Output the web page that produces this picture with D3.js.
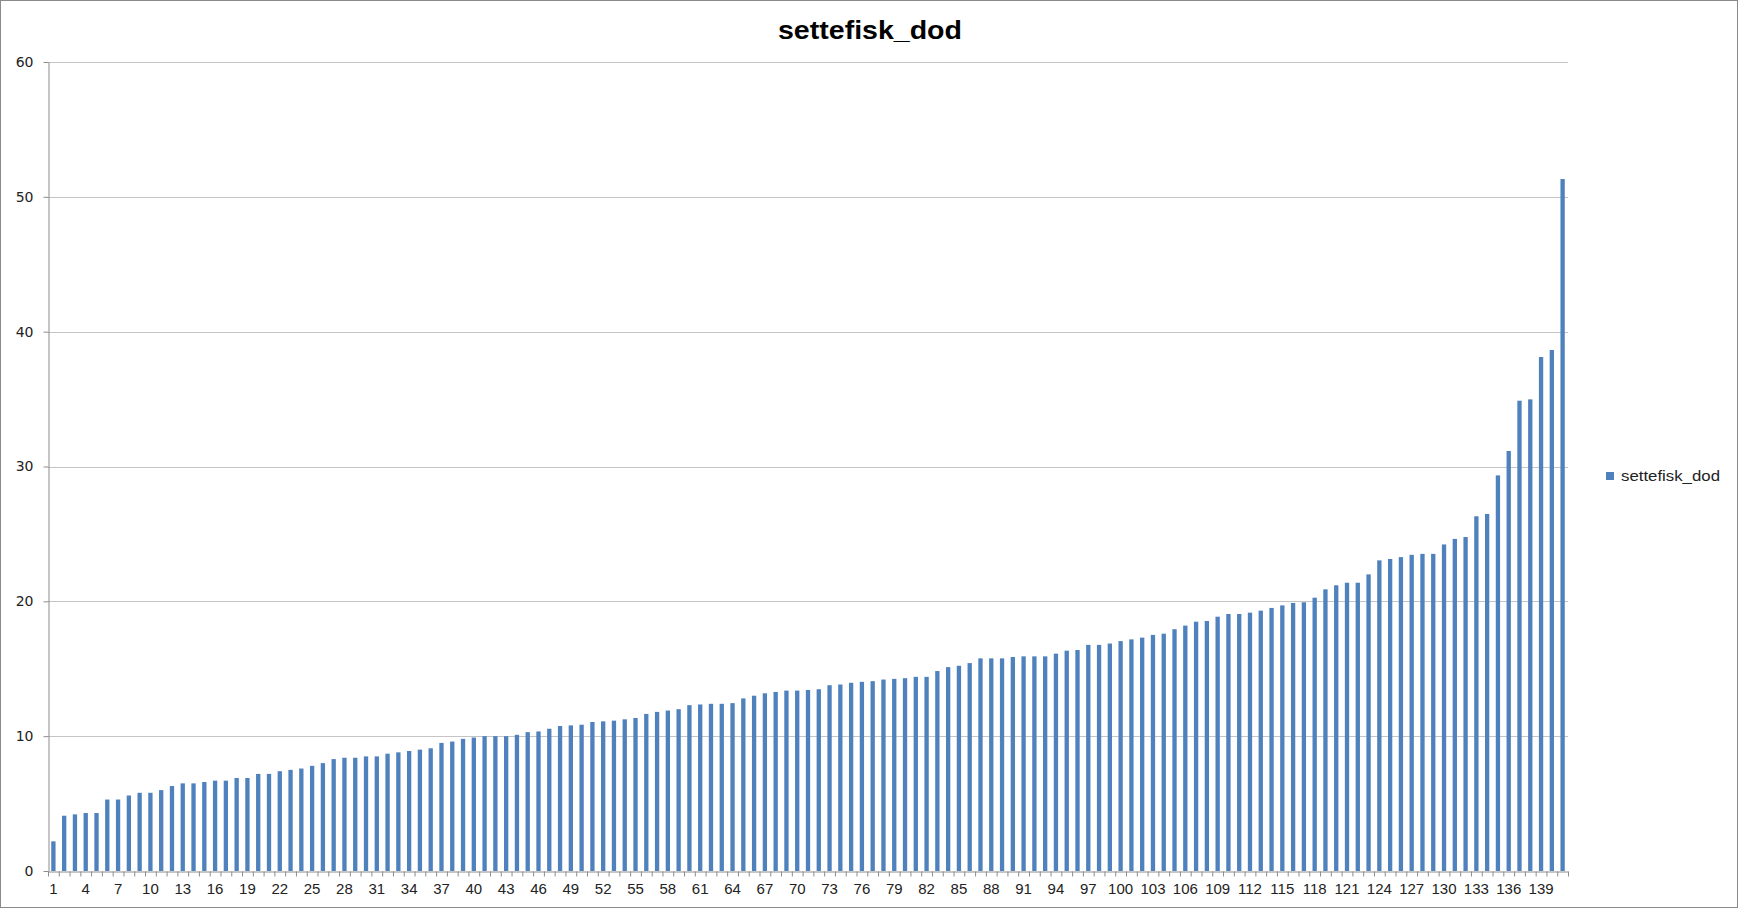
<!DOCTYPE html>
<html>
<head>
<meta charset="utf-8">
<script src="https://cdn.jsdelivr.net/npm/d3@7"></script>
<style>
	body { margin: 0; background: #fff; }
	svg { display: block; }
</style>
</head>
<body>
<svg id="chart" width="1738" height="908"></svg>
<script>
// values, sorted ascending
var seriesName = "settefisk_dod";
var yTicks = [0, 10, 20, 30, 40, 50, 60];
var values = [
	2.2, 4.1, 4.2, 4.3, 4.3, 5.3, 5.3, 5.6, 5.8, 5.8,
	6.0, 6.3, 6.5, 6.5, 6.6, 6.7, 6.7, 6.9, 6.9, 7.2,
	7.2, 7.4, 7.5, 7.6, 7.8, 8.0, 8.3, 8.4, 8.4, 8.5,
	8.5, 8.7, 8.8, 8.9, 9.0, 9.1, 9.5, 9.6, 9.8, 9.9,
	10.0, 10.0, 10.0, 10.1, 10.3, 10.35, 10.55, 10.75, 10.8, 10.85,
	11.05, 11.1, 11.15, 11.25, 11.35, 11.65, 11.8, 11.9, 12.0, 12.3,
	12.35, 12.4, 12.4, 12.45, 12.8, 13.0, 13.18, 13.28, 13.38, 13.38,
	13.43, 13.48, 13.78, 13.83, 13.96, 14.03, 14.08, 14.2, 14.25, 14.3,
	14.4, 14.4, 14.83, 15.12, 15.22, 15.42, 15.77, 15.77, 15.77, 15.87,
	15.92, 15.92, 15.92, 16.12, 16.34, 16.39, 16.77, 16.77, 16.87, 17.05,
	17.18, 17.31, 17.51, 17.6, 17.93, 18.2, 18.49, 18.54, 18.86, 19.06,
	19.06, 19.16, 19.31, 19.51, 19.7, 19.88, 19.93, 20.27, 20.89, 21.19,
	21.38, 21.38, 22.0, 23.04, 23.14, 23.28, 23.45, 23.52, 23.52, 24.22,
	24.63, 24.77, 26.31, 26.48, 29.34, 31.15, 34.88, 34.98, 38.12, 38.64,
	51.32
];
var categories = d3.range(1, values.length + 1);
// every third category gets a label
var xLabels = categories.filter(function (c) { return (c - 1) % 3 === 0; });

(function () {
	var svg = d3.select("#chart");
	var W = 1738, H = 908;
	var left = 48, right = 1568, top = 62, bottom = 871;

	var barColor = "#4f81bd";
	var gridColor = "#c4c4c4";
	var axisColor = "#8c8c8c";

	// outer frame of the chart area
	svg.append("rect")
		.attr("x", 0.5).attr("y", 0.5)
		.attr("width", W - 1).attr("height", H - 1)
		.attr("fill", "#fff")
		.attr("stroke", "#8a8a8a");

	var x = d3.scaleBand()
		.domain(categories)
		.range([left, right])
		.paddingInner(0.6)
		.paddingOuter(0.3);

	// boundaries between categories, for the tick marks
	var xEdge = d3.scaleLinear().domain([0, categories.length]).range([left, right]);

	var y = d3.scaleLinear().domain([0, 60]).range([bottom, top]);

	// gridlines
	svg.append("g")
		.selectAll("line")
		.data(yTicks.slice(1))
		.join("line")
		.attr("x1", left).attr("x2", right)
		.attr("y1", function (d) { return Math.round(y(d)) + 0.5; })
		.attr("y2", function (d) { return Math.round(y(d)) + 0.5; })
		.attr("stroke", gridColor)
		.attr("stroke-width", 1.2);

	// bars
	svg.append("g")
		.selectAll("rect")
		.data(values)
		.join("rect")
		.attr("x", function (d, i) { return x(categories[i]); })
		.attr("y", function (d) { return y(d); })
		.attr("width", x.bandwidth())
		.attr("height", function (d) { return y(0) - y(d); })
		.attr("fill", barColor);

	// y axis
	var yAxis = svg.append("g")
		.attr("transform", "translate(" + (left + 0.5) + ",0)")
		.call(d3.axisLeft(y).tickValues(yTicks).tickSize(5).tickPadding(10).tickSizeOuter(0));
	yAxis.select(".domain").attr("stroke", axisColor);
	yAxis.selectAll(".tick line").attr("stroke", axisColor);
	yAxis.selectAll("text")
		.attr("fill", "#222")
		.style("font-family", "'DejaVu Sans', Verdana, sans-serif")
		.style("font-size", "14px");

	// x axis tick marks between categories
	var xTickAxis = svg.append("g")
		.attr("transform", "translate(0," + (bottom + 0.5) + ")")
		.call(d3.axisBottom(xEdge).tickValues(d3.range(0, categories.length + 1)).tickSize(5).tickFormat("").tickSizeOuter(0));
	xTickAxis.select(".domain").attr("stroke", axisColor);
	xTickAxis.selectAll(".tick line").attr("stroke", axisColor);

	// x labels under the bars
	var xLabelAxis = svg.append("g")
		.attr("transform", "translate(0," + bottom + ")")
		.call(d3.axisBottom(x).tickValues(xLabels).tickSize(0).tickPadding(12));
	xLabelAxis.select(".domain").remove();
	xLabelAxis.selectAll("text")
		.attr("fill", "#222")
		.style("font-family", "'Liberation Sans', Arial, sans-serif")
		.style("font-size", "15px");

	// title, stretched a little like the reference
	svg.append("text")
		.attr("x", 870).attr("y", 39)
		.attr("text-anchor", "middle")
		.attr("textLength", 184)
		.attr("lengthAdjust", "spacingAndGlyphs")
		.style("font-family", "'Liberation Sans', Arial, sans-serif")
		.style("font-weight", "bold")
		.style("font-size", "25px")
		.attr("fill", "#000")
		.text(seriesName);

	// legend
	var legend = svg.append("g").attr("transform", "translate(1606,472)");
	legend.append("rect")
		.attr("width", 8).attr("height", 8)
		.attr("fill", barColor);
	legend.append("text")
		.attr("x", 15).attr("y", 9)
		.attr("textLength", 99)
		.attr("lengthAdjust", "spacingAndGlyphs")
		.style("font-family", "'Liberation Sans', Arial, sans-serif")
		.style("font-size", "15px")
		.attr("fill", "#222")
		.text(seriesName);
})();
</script>
</body>
</html>
